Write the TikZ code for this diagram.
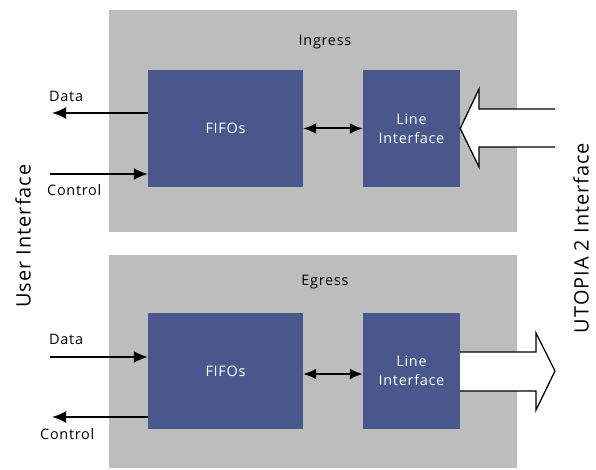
\documentclass[tikz,border=0pt]{standalone}
\usepackage{fontspec}
\setmainfont{Open Sans}[LetterSpace=5]
\usetikzlibrary{arrows.meta}
\definecolor{boxblue}{RGB}{72,88,140}
\definecolor{panelgray}{RGB}{189,189,189}
\tikzset{
  panel/.style={fill=panelgray, draw=none},
  blk/.style={fill=boxblue, draw=none, text=white, font=\fontsize{14.5}{19}\selectfont, align=center},
  lbl/.style={font=\fontsize{14.5}{17}\selectfont, inner sep=0pt},
  sig/.style={line width=2bp, -{Latex[length=14bp,width=12bp]}},
  dbl/.style={line width=2bp, {Latex[length=13bp,width=11bp]}-{Latex[length=13bp,width=11bp]}},
  bigarrow/.style={fill=white, draw=black, line width=1.3bp, line join=miter},
  side/.style={font=\fontsize{20}{24}\selectfont, inner sep=0pt, rotate=90}
}
\begin{document}
\begin{tikzpicture}[x=1bp,y=-1bp]
\useasboundingbox (0,0) rectangle (596,470);
% panels
\node[panel, minimum width=408bp, minimum height=222bp, inner sep=0pt] (ing) at (313,121) {};
\node[panel, minimum width=408bp, minimum height=213bp, inner sep=0pt] (egr) at (313,361.5) {};
\node[lbl] (ingt) at (325,42) {Ingress};
\node[lbl] (egrt) at (325,282) {Egress};
% ingress blocks
\node[blk, minimum width=155bp, minimum height=117bp, inner sep=0pt] (fifo1) at (225.5,128.5) {FIFOs};
\node[blk, minimum width=97bp, minimum height=117bp, inner sep=0pt] (li1) at (411.5,128.5) {Line\\Interface};
% egress blocks
\node[blk, minimum width=155bp, minimum height=116bp, inner sep=0pt] (fifo2) at (225.5,371) {FIFOs};
\node[blk, minimum width=97bp, minimum height=116bp, inner sep=0pt] (li2) at (411.5,371) {Line\\Interface};
% double arrows
\draw[dbl] (fifo1.east) -- (li1.west);
\draw[dbl] (fifo2.east |- 0,374) -- (li2.west |- 0,374);
% ingress signals
\coordinate (d1) at (52,113);
\coordinate (c1) at (50,174);
\draw[sig] (fifo1.west |- d1) -- (d1);
\draw[sig] (c1) -- (fifo1.west |- c1);
\node[lbl, anchor=west] (d1t) at (49,96) {Data};
\node[lbl, anchor=west] (c1t) at (47,190) {Control};
% egress signals
\coordinate (d2) at (50,357);
\coordinate (c2) at (52,417);
\draw[sig] (d2) -- (fifo2.west |- d2);
\draw[sig] (fifo2.west |- c2) -- (c2);
\node[lbl, anchor=west] (d2t) at (49,339) {Data};
\node[lbl, anchor=west] (c2t) at (40,434) {Control};
% big arrows
\coordinate (u1) at (555,109);
\coordinate (u2) at (555,147);
\draw[bigarrow] (u1) -- (479,109) -- (479,89) -- (li1.east) -- (479,167) -- (479,147) -- (u2);
\coordinate (e1) at (555,371);
\draw[bigarrow] (li2.east |- 0,352) -- (536,352) -- (536,333) -- (e1) -- (536,410) -- (536,391) -- (li2.east |- 0,391);
% side labels
\node[side] (ui) at (23,236) {User Interface};
\node[side] (ut) at (581,238) {UTOPIA 2 Interface};
\end{tikzpicture}
\end{document}
